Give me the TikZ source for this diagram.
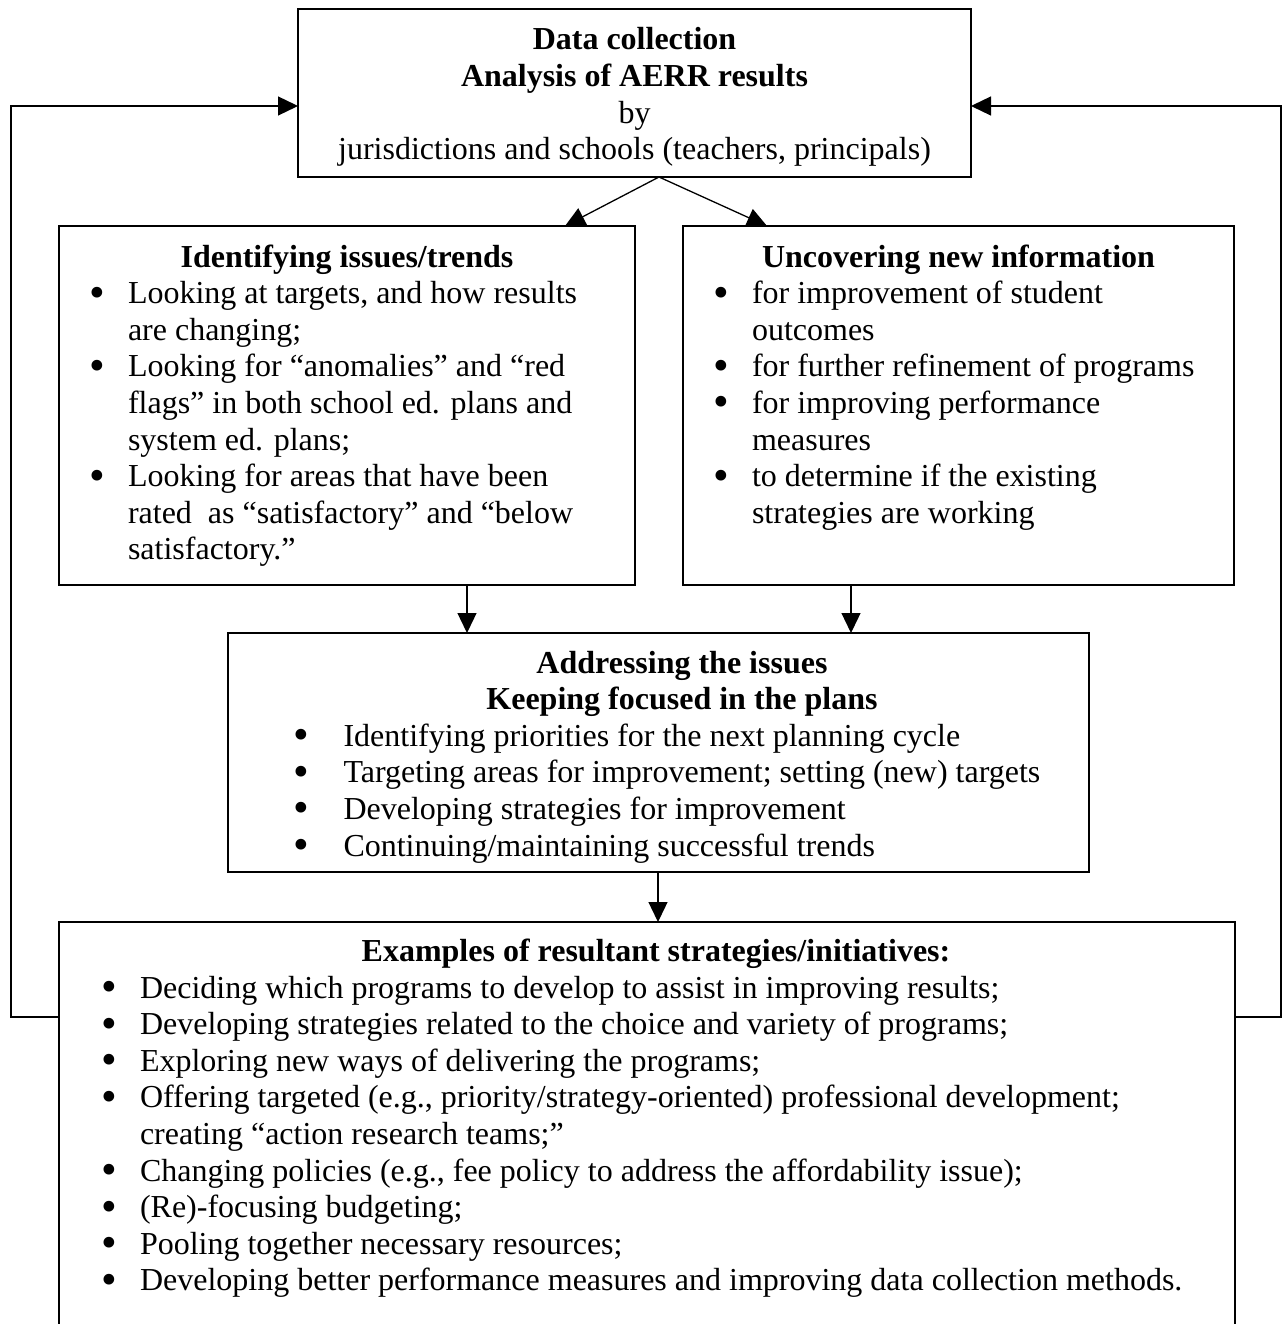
\documentclass[tikz,border=0pt]{standalone}
\usepackage{fontspec}
\usepackage{graphicx}
\setmainfont{Liberation Serif}
\usetikzlibrary{arrows.meta}
\newcommand{\bulletmark}[1]{\makebox[0pt][c]{\smash{\raisebox{-3.5pt}{\scalebox{1.4}{\textbullet}}}}\hspace{#1}}
\begin{document}
\begin{tikzpicture}[x=1pt, y=-1pt,
  box/.style={draw, line width=1.3pt, rectangle, inner sep=0pt, outer sep=0pt},
  txt/.style={inner sep=0pt, outer sep=0pt, anchor=base west, font=\fontsize{32}{36.6}\selectfont},
  ctr/.style={txt, anchor=base},
  ttl/.style={inner sep=0pt, outer sep=0pt, anchor=base, font=\fontsize{32}{36.6}\selectfont\bfseries},
  arr/.style={line width=1.3pt, -{Triangle[length=20pt,width=19pt]}}]
\useasboundingbox (0,0) rectangle (1282,1324);
\fill[white] (0,0) rectangle (1282,1324);

% boxes
\node[box, minimum width=673pt, minimum height=168pt] (top) at (634.5,93) {};
\node[box, minimum width=576pt, minimum height=359pt] (left) at (347,405.5) {};
\node[box, minimum width=551pt, minimum height=359pt] (right) at (958.5,405.5) {};
\node[box, minimum width=861pt, minimum height=239pt] (mid) at (658.5,752.5) {};
\node[box, minimum width=1176pt, minimum height=418pt] (bot) at (647,1131) {};

% top box text
\node[ttl] (t1) at (634.5,50) {Data collection};
\node[ttl] (t2) at (634.5,86.6) {Analysis of AERR results};
\node[ctr] (t3) at (634.5,123.2) {by};
\node[ctr] (t4) at (634.5,159.8) {jurisdictions and schools (teachers, principals)};

% left box text
\node[ttl] (l0) at (347,267) {Identifying issues/trends};
\node[txt] (l1) at (97,303.6) {\bulletmark{31pt}Looking at targets, and how results};
\node[txt] (l2) at (128,340.2) {are changing;};
\node[txt] (l3) at (97,376.8) {\bulletmark{31pt}Looking for “anomalies” and “red};
\node[txt] (l4) at (128,413.4) {flags” in both school ed. plans and};
\node[txt] (l5) at (128,450) {system ed. plans;};
\node[txt] (l6) at (97,486.6) {\bulletmark{31pt}Looking for areas that have been};
\node[txt] (l7) at (128,523.2) {rated\ \ as “satisfactory” and “below};
\node[txt] (l8) at (128,559.8) {satisfactory.”};

% right box text
\node[ttl] (r0) at (958.5,267) {Uncovering new information};
\node[txt] (r1) at (721,303.6) {\bulletmark{31pt}for improvement of student};
\node[txt] (r2) at (752,340.2) {outcomes};
\node[txt] (r3) at (721,376.8) {\bulletmark{31pt}for further refinement of programs};
\node[txt] (r4) at (721,413.4) {\bulletmark{31pt}for improving performance};
\node[txt] (r5) at (752,450) {measures};
\node[txt] (r6) at (721,486.6) {\bulletmark{31pt}to determine if the existing};
\node[txt] (r7) at (752,523.2) {strategies are working};

% middle box text
\node[ttl] (m1) at (682,673) {Addressing the issues};
\node[ttl] (m2) at (682,709.6) {Keeping focused in the plans};
\node[txt] (m3) at (301,746.2) {\bulletmark{42.5pt}Identifying priorities for the next planning cycle};
\node[txt] (m4) at (301,782.8) {\bulletmark{42.5pt}Targeting areas for improvement; setting (new) targets};
\node[txt] (m5) at (301,819.4) {\bulletmark{42.5pt}Developing strategies for improvement};
\node[txt] (m6) at (301,856) {\bulletmark{42.5pt}Continuing/maintaining successful trends};

% bottom box text
\node[ttl] (b0) at (656,961.4) {Examples of resultant strategies/initiatives:};
\node[txt] (b1) at (109,998) {\bulletmark{31pt}Deciding which programs to develop to assist in improving results;};
\node[txt] (b2) at (109,1034.6) {\bulletmark{31pt}Developing strategies related to the choice and variety of programs;};
\node[txt] (b3) at (109,1071.2) {\bulletmark{31pt}Exploring new ways of delivering the programs;};
\node[txt] (b4) at (109,1107.8) {\bulletmark{31pt}Offering targeted (e.g., priority/strategy-oriented) professional development;};
\node[txt] (b5) at (140,1144.4) {creating “action research teams;”};
\node[txt] (b6) at (109,1181) {\bulletmark{31pt}Changing policies (e.g., fee policy to address the affordability issue);};
\node[txt] (b7) at (109,1217.6) {\bulletmark{31pt}(Re)-focusing budgeting;};
\node[txt] (b8) at (109,1254.2) {\bulletmark{31pt}Pooling together necessary resources;};
\node[txt] (b9) at (109,1290.8) {\bulletmark{31pt}Developing better performance measures and improving data collection methods.};

% connectors
\coordinate (split) at ([xshift=24.5pt]top.south);
\draw[arr] (split) -- ([xshift=218pt]left.north);
\draw[arr] (split) -- ([xshift=-191.5pt]right.north);
\draw[arr] ([xshift=120pt]left.south) -- ([xshift=120pt]left.south |- mid.north);
\draw[arr] ([xshift=-107.5pt]right.south) -- ([xshift=-107.5pt]right.south |- mid.north);
\draw[arr] ([xshift=-0.5pt]mid.south) -- ([xshift=-0.5pt]mid.south |- bot.north);
\draw[arr] ([yshift=-95pt]bot.north west) -- ++(-48,0) |- ([yshift=-13pt]top.west);
\draw[arr] ([yshift=-95pt]bot.north east) -- ++(46,0) |- ([yshift=-13pt]top.east);
\end{tikzpicture}
\end{document}
